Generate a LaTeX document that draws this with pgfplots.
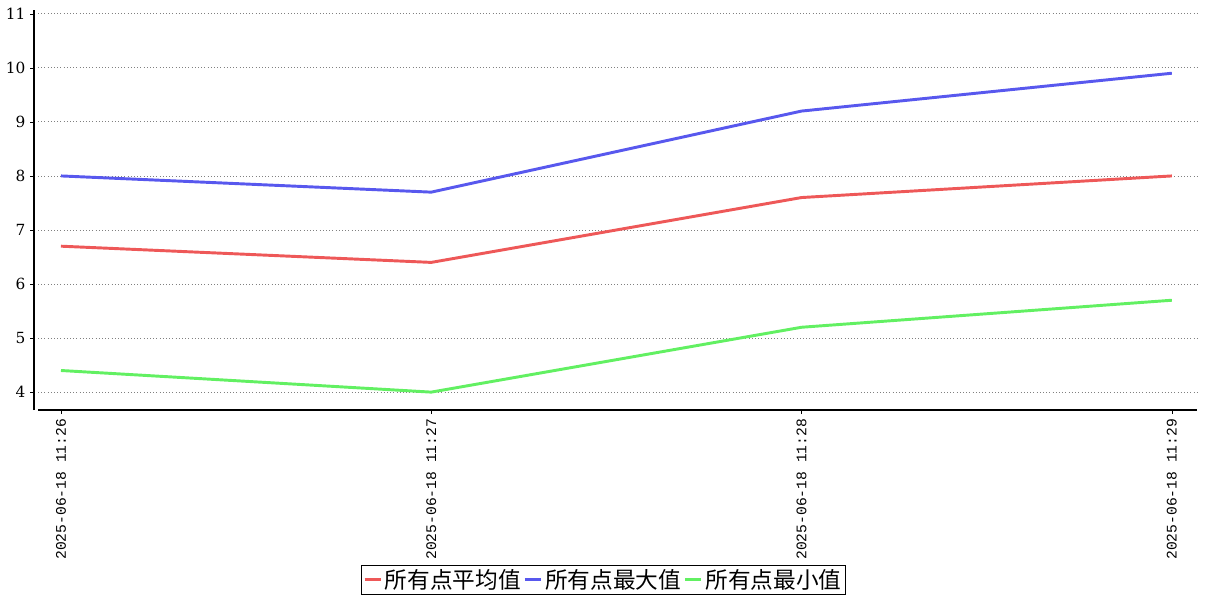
\documentclass[border=0pt]{standalone}
\usepackage{pgfplots}
\pgfplotsset{compat=1.18}
\usepackage{fontspec}
\setmainfont{DejaVu Serif}
\setmonofont{Liberation Mono}
\newfontfamily\cjk{Noto Sans CJK SC}
\definecolor{cred}{RGB}{238,88,88}
\definecolor{cblue}{RGB}{88,88,238}
\definecolor{cgreen}{RGB}{98,240,98}
\begin{document}
\begin{tikzpicture}[x=0.75pt,y=0.75pt]
\begin{axis}[
  scale only axis,
  width=869pt, height=300pt,
  xmin=-0.062, xmax=3.068,
  ymin=3.667, ymax=11.07,
  axis x line=bottom, axis y line=left,
  axis line style={-, line width=1.2pt},
  axis y line shift=3pt,
  xtick={0,1,2,3},
  xticklabels={2025-06-18 11:26,2025-06-18 11:27,2025-06-18 11:28,2025-06-18 11:29},
  x tick label style={rotate=90, anchor=east, font=\ttfamily\fontsize{11}{12}\selectfont},
  ytick={4,5,6,7,8,9,10,11},
  y tick label style={font=\fontsize{11.5}{12}\selectfont},
  /pgf/number format/assume math mode=true,
  tick align=outside, major tick length=3pt,
  tick style={black, line width=0.4pt},
  ymajorgrids,
  grid style={gray, dotted, line width=0.6pt},
  legend columns=-1,
  legend style={at={(0.488,0)}, anchor=north, yshift=-116pt, draw=black, line width=0.8pt,
    font=\cjk\fontsize{17}{18}\selectfont, inner sep=1pt,
    /tikz/every even column/.append style={column sep=0pt}},
  legend image code/.code={\draw[#1, line width=2.2pt] (0pt,0pt) -- (12pt,0pt);},
  every axis plot/.append style={line width=2.2pt},
]
\addplot[cred] coordinates {(0,6.7) (1,6.4) (2,7.6) (3,8.0)};
\addlegendentry{所有点平均值}
\addplot[cblue] coordinates {(0,8.0) (1,7.7) (2,9.2) (3,9.9)};
\addlegendentry{所有点最大值}
\addplot[cgreen] coordinates {(0,4.4) (1,4.0) (2,5.2) (3,5.7)};
\addlegendentry{所有点最小值}
\end{axis}
\pgfresetboundingbox
\useasboundingbox ([shift={(-28.5pt,-142.5pt)}]current axis.south west) rectangle ([shift={(7.5pt,7.5pt)}]current axis.north east);
\end{tikzpicture}
\end{document}
